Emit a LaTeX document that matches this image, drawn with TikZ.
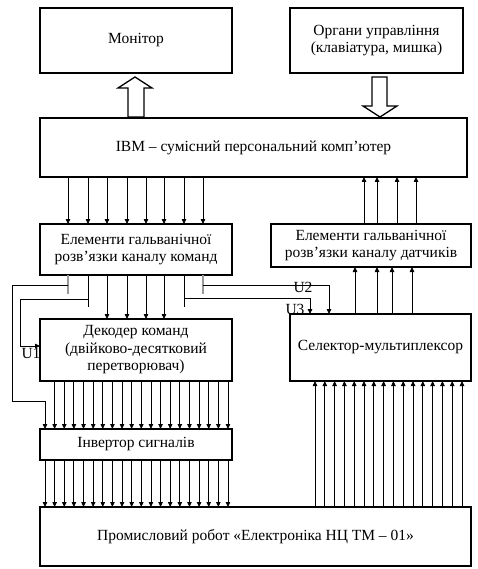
\documentclass[tikz,border=0pt]{standalone}
\usepackage{fontspec}
\setmainfont{Liberation Serif}
\usetikzlibrary{arrows.meta}
\tikzset{
  box/.style={draw, line width=1.8pt, align=center, inner sep=0pt, outer sep=0pt, anchor=north west, font=\fontsize{15.5}{17.5}\selectfont},
  arr/.style={line width=0.8pt, -{Triangle[length=5pt,width=4.5pt]}},
  wire/.style={line width=0.8pt},
  stub/.style={line width=1.3pt, draw=gray!80},
  hollow/.style={line width=1.3pt, draw, fill=white, line join=miter},
  lbl/.style={font=\fontsize{15.5}{15.5}\selectfont, inner sep=0pt}
}
\begin{document}
\begin{tikzpicture}[x=1pt,y=-1pt]
\useasboundingbox[fill=white] (0,0) rectangle (478,569);
% boxes
\node[box, minimum width=192pt, minimum height=65pt] (mon) at (40,8) {Монітор};
\node[box, minimum width=173pt, minimum height=65pt] (org) at (290,8) {Органи управління\\(клавіатура, мишка)};
\node[box, minimum width=427pt, minimum height=59pt] (ibm) at (40,118) {IBM – сумісний персональний комп’ютер};
\node[box, minimum width=192pt, minimum height=51pt] (cmd) at (40,224) {Елементи гальванічної\\розв’язки каналу команд};
\node[box, minimum width=200pt, minimum height=43pt] (sen) at (271,224) {Елементи гальванічної\\розв’язки каналу датчиків};
\node[box, minimum width=192pt, minimum height=62pt] (dec) at (40,319) {Декодер команд\\(двійково-десятковий\\перетворювач)};
\node[box, minimum width=181pt, minimum height=67pt] (sel) at (290,314) {Селектор-мультиплексор};
\node[box, minimum width=192pt, minimum height=31pt] (inv) at (40,429) {Інвертор сигналів};
\node[box, minimum width=431pt, minimum height=59pt] (rob) at (40,507) {Промисловий робот «Електроніка НЦ ТМ – 01»};
% hollow arrows
\draw[hollow] (128,117) -- (128,88) -- (118,88) -- (135,77) -- (152,88) -- (144,88) -- (144,117) -- cycle;
\draw[hollow] (372,77) -- (387,77) -- (387,106) -- (397,106) -- (380,117) -- (363,106) -- (372,106) -- cycle;
% IBM -> command isolation
\foreach \x in {68,88,107,127,146,164,184,203}
  \draw[arr] (\x,0 |- ibm.south) -- (\x,0 |- cmd.north);
% sensor isolation -> IBM
\foreach \x in {364,377,397,416}
  \draw[arr] (\x,0 |- sen.north) -- (\x,0 |- ibm.south);
% selector -> sensor isolation
\foreach \x in {355,377,392,412}
  \draw[arr] (\x,0 |- sel.north) -- (\x,0 |- sen.south);
% command isolation -> decoder
\foreach \x in {107,127,146,164}
  \draw[arr] (\x,0 |- cmd.south) -- (\x,0 |- dec.north);
% stubs
\draw[stub] (68,0 |- cmd.south) -- (68,294);
\draw[stub] (203,0 |- cmd.south) -- (203,294);
\draw[wire] (88,0 |- cmd.south) -- (88,307);
\draw[wire] (184,0 |- cmd.south) -- (184,307);
% U1
\coordinate (u1s) at (88,299);
\draw[arr] (u1s) -- (20,299) -- (20,346) -- (dec.west |- 20,346);
\node[lbl] (u1) at (31,353) {U1};
% wire to inverter
\coordinate (w0) at (68,285);
\draw[arr] (w0) -- (12,285) -- (12,401) -- (45,401) -- (45,0 |- inv.north);
% U2, U3
\coordinate (u2s) at (203,285);
\draw[arr] (u2s) -- (329,285) -- (329,0 |- sel.north);
\node[lbl] (u2) at (303,287) {U2};
\coordinate (u3s) at (184,298);
\draw[arr] (u3s) -- (310,298) -- (310,0 |- sel.north);
\node[lbl] (u3) at (295,309) {U3};
% decoder -> inverter, inverter -> robot
\foreach \k in {1,...,19}
  \draw[arr] ({45+\k*9.63},0 |- dec.south) -- ({45+\k*9.63},0 |- inv.north);
\foreach \k in {0,...,19}
  \draw[arr] ({45+\k*9.63},0 |- inv.south) -- ({45+\k*9.63},0 |- rob.north);
% robot -> selector
\foreach \k in {0,...,15}
  \draw[arr] ({315+\k*9.8},0 |- rob.north) -- ({315+\k*9.8},0 |- sel.south);
\end{tikzpicture}
\end{document}
